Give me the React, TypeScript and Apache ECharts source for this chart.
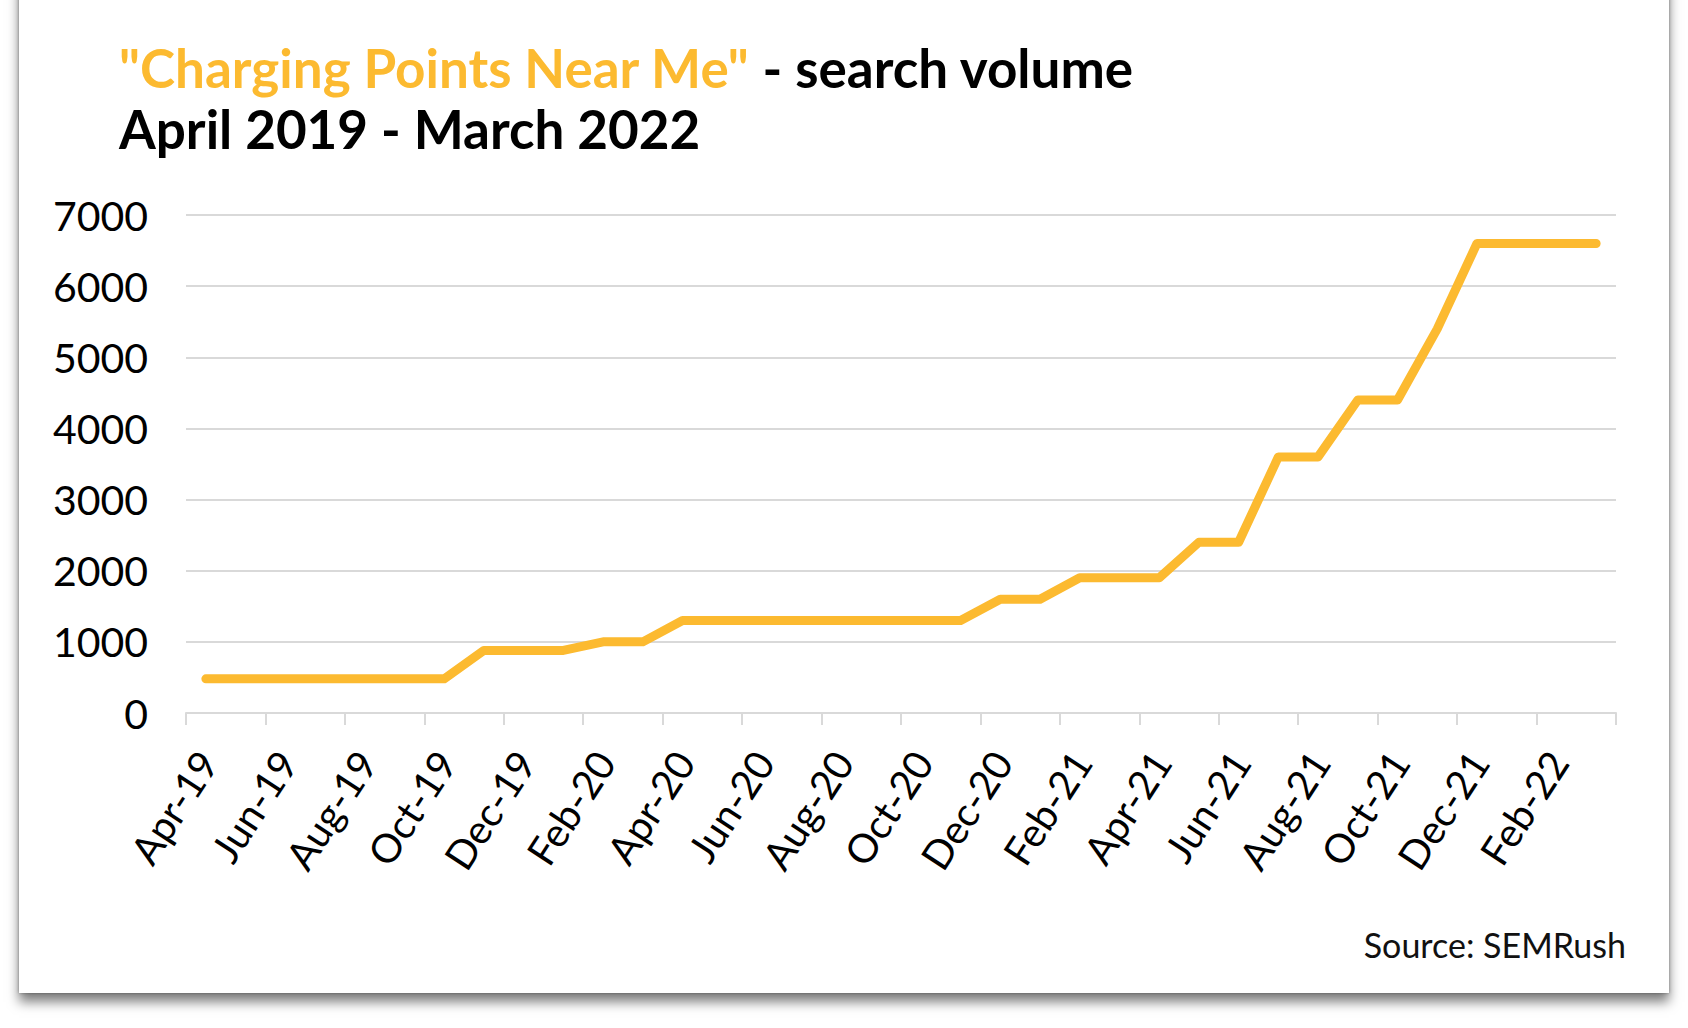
import React, { useEffect, useRef } from "react";
import * as echarts from "echarts";

const months = [
  "Apr-19", "May-19", "Jun-19", "Jul-19", "Aug-19", "Sep-19", "Oct-19", "Nov-19", "Dec-19",
  "Jan-20", "Feb-20", "Mar-20", "Apr-20", "May-20", "Jun-20", "Jul-20", "Aug-20", "Sep-20",
  "Oct-20", "Nov-20", "Dec-20", "Jan-21", "Feb-21", "Mar-21", "Apr-21", "May-21", "Jun-21",
  "Jul-21", "Aug-21", "Sep-21", "Oct-21", "Nov-21", "Dec-21", "Jan-22", "Feb-22", "Mar-22",
];

const searchVolume = [
  480, 480, 480, 480, 480, 480, 480, 880, 880,
  880, 1000, 1000, 1300, 1300, 1300, 1300, 1300, 1300,
  1300, 1300, 1600, 1600, 1900, 1900, 1900, 2400, 2400,
  3600, 3600, 4400, 4400, 5400, 6600, 6600, 6600, 6600,
];

const yTicks = [0, 1000, 2000, 3000, 4000, 5000, 6000, 7000];

const YELLOW = "#FCBA30";
const GRID = "#d9d9d9";
const FONT = "Lato, 'Open Sans', sans-serif";

export default function App() {
  const ref = useRef<HTMLDivElement>(null);

  useEffect(() => {
    if (!ref.current) return;
    const chart = echarts.init(ref.current, null, { renderer: "svg" });
    const gLeft = 186;
    const gRight = 72;
    const gTop = 215;
    const gBottom = 315;
    const labelShift = 2;
    chart.setOption({
      animation: false,
      backgroundColor: "transparent",
      title: {
        left: 114,
        top: 32,
        text: '{y|"Charging Points Near Me"}{k| - search volume}\n{k|April 2019 - March 2022}',
        textStyle: {
          rich: {
            y: { fontFamily: FONT, fontWeight: "bold", fontSize: 53, color: YELLOW, lineHeight: 61 },
            k: { fontFamily: FONT, fontWeight: "bold", fontSize: 53, color: "#000", lineHeight: 61 },
          },
        },
      },
      graphic: [
        {
          type: "text",
          right: 62,
          top: 927,
          style: { text: "Source: SEMRush", font: `34px ${FONT}`, fill: "#111" },
        },
      ],
      grid: [
        { left: gLeft, right: gRight, top: gTop, bottom: gBottom },
        { left: gLeft + labelShift, right: gRight - labelShift, top: gTop, bottom: gBottom },
      ],
      xAxis: [
        {
          type: "category",
          gridIndex: 0,
          data: months,
          boundaryGap: true,
          axisLine: { show: true, lineStyle: { color: GRID, width: 2 } },
          axisTick: { show: true, interval: 1, length: 12, lineStyle: { color: GRID, width: 2 } },
          axisLabel: { show: false },
          splitLine: { show: false },
        },
        {
          type: "category",
          gridIndex: 1,
          data: months,
          boundaryGap: true,
          axisLine: { show: false },
          axisTick: { show: false },
          axisLabel: {
            show: true,
            interval: 1,
            rotate: 57,
            margin: 42,
            fontFamily: FONT,
            fontSize: 40,
            color: "#000",
          },
          splitLine: { show: false },
        },
      ],
      yAxis: [
        {
          type: "value",
          gridIndex: 0,
          min: yTicks[0],
          max: yTicks[yTicks.length - 1],
          interval: 1000,
          axisLine: { show: false },
          axisTick: { show: false },
          axisLabel: {
            margin: 38,
            fontFamily: FONT,
            fontSize: 41,
            color: "#000",
            formatter: (v: number) => String(v),
          },
          splitLine: { show: true, lineStyle: { color: GRID, width: 2 } },
        },
        {
          type: "value",
          gridIndex: 1,
          min: yTicks[0],
          max: yTicks[yTicks.length - 1],
          interval: 1000,
          show: false,
        },
      ],
      series: [
        {
          type: "line",
          xAxisIndex: 0,
          yAxisIndex: 0,
          data: searchVolume,
          symbol: "none",
          smooth: false,
          lineStyle: { color: YELLOW, width: 9, cap: "round", join: "round" },
        },
      ],
    });
    return () => chart.dispose();
  }, []);

  return (
    <div style={{ position: "absolute", left: 0, top: 0, width: 1688, height: 1028, background: "#fff", overflow: "hidden" }}>
      <div
        style={{
          position: "absolute",
          left: 19,
          top: -20,
          width: 1650,
          height: 1013,
          background: "#fff",
          boxShadow: "0 9px 11px rgba(0,0,0,0.5), 0 0 3px rgba(0,0,0,0.35)",
        }}
      />
      <div ref={ref} style={{ position: "absolute", left: 0, top: 0, width: 1688, height: 1028 }} />
    </div>
  );
}
